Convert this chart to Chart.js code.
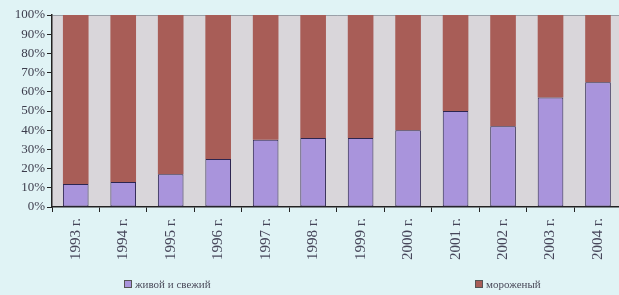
<!DOCTYPE html>
<html lang="ru">
<head>
    <meta charset="UTF-8">
    <title>Живой и мороженый</title>
    <script src="https://cdn.jsdelivr.net/npm/chart.js"></script>
    <style>
        html, body { margin: 0; padding: 0; overflow: hidden; background: #e0f3f5; }
        #wrap { position: relative; width: 622px; height: 295px; }
        #legend { position: absolute; left: 0; top: 277px; width: 622px; height: 16px;
                  font-family: "Liberation Serif", serif; font-size: 11px; color: #4a4a5a; }
        .item { position: absolute; top: 0; white-space: nowrap; line-height: 14px; }
        .box { display: inline-block; width: 6px; height: 6px; border: 1px solid #555;
               margin-right: 3px; vertical-align: 0px; }
    </style>
</head>
<body>
<div id="wrap">
    <canvas id="myChart" width="622" height="295"></canvas>
    <div id="legend"></div>
</div>
<script>
var years = ['1993 г.', '1994 г.', '1995 г.', '1996 г.', '1997 г.', '1998 г.',
             '1999 г.', '2000 г.', '2001 г.', '2002 г.', '2003 г.', '2004 г.'];
var fresh = [12, 13, 17, 25, 35, 36, 36, 40, 50, 42, 57, 65];
var frozen = [88, 87, 83, 75, 65, 64, 64, 60, 50, 58, 43, 35];
var seriesNames = ['живой и свежий', 'мороженый'];
var seriesColors = ['#a994dc', '#a85d57'];

var plotBg = {
    id: 'plotBg',
    beforeDraw: function(chart) {
        var a = chart.chartArea, ctx = chart.ctx;
        ctx.save();
        ctx.fillStyle = '#d9d6da';
        ctx.fillRect(a.left, a.top, a.right - a.left, a.bottom - a.top);
        ctx.restore();
    }
};

var ctx = document.getElementById('myChart').getContext('2d');
var myChart = new Chart(ctx, {
    type: 'bar',
    data: {
        labels: years,
        datasets: [{
            label: seriesNames[0],
            data: fresh,
            backgroundColor: seriesColors[0],
            borderColor: '#2c2550',
            borderWidth: 1,
            borderSkipped: false,
            barPercentage: 0.54,
            categoryPercentage: 1
        }, {
            label: seriesNames[1],
            data: frozen,
            backgroundColor: seriesColors[1],
            borderColor: '#8a4a48',
            borderWidth: 0,
            barPercentage: 0.54,
            categoryPercentage: 1
        }]
    },
    options: {
        responsive: false,
        animation: false,
        layout: { padding: { top: 15, left: 0, right: 0, bottom: 0 } },
        plugins: {
            legend: { display: false },
            tooltip: { enabled: false }
        },
        scales: {
            x: {
                stacked: true,
                afterFit: function(s) { s.height = 88; },
                grid: {
                    drawOnChartArea: false,
                    drawTicks: true,
                    tickLength: 5,
                    color: '#222'
                },
                border: { color: '#222', width: 1.5 },
                ticks: {
                    minRotation: 90,
                    maxRotation: 90,
                    padding: 6,
                    color: '#46465a',
                    font: { family: 'Liberation Serif', size: 15 }
                }
            },
            y: {
                stacked: true,
                min: 0,
                max: 100,
                afterFit: function(s) { s.width = 52; },
                grid: {
                    drawOnChartArea: true,
                    drawTicks: true,
                    tickLength: 5,
                    color: function(c) { return c.tick && c.tick.value === 100 ? '#9aa0a8' : 'rgba(0,0,0,0)'; },
                    tickColor: '#222',
                    borderDash: [2, 2]
                },
                border: { color: '#222', width: 1.5 },
                ticks: {
                    stepSize: 10,
                    padding: 2,
                    color: '#3c3c4c',
                    font: { family: 'Liberation Serif', size: 13 },
                    callback: function(v) { return v + '%'; }
                }
            }
        }
    },
    plugins: [plotBg]
});

var legendX = [124, 475];
var legend = document.getElementById('legend');
seriesNames.forEach(function(name, i) {
    var d = document.createElement('div');
    d.className = 'item';
    d.style.left = legendX[i] + 'px';
    var b = document.createElement('span');
    b.className = 'box';
    b.style.background = seriesColors[i];
    d.appendChild(b);
    d.appendChild(document.createTextNode(name));
    legend.appendChild(d);
});
</script>
</body>
</html>
